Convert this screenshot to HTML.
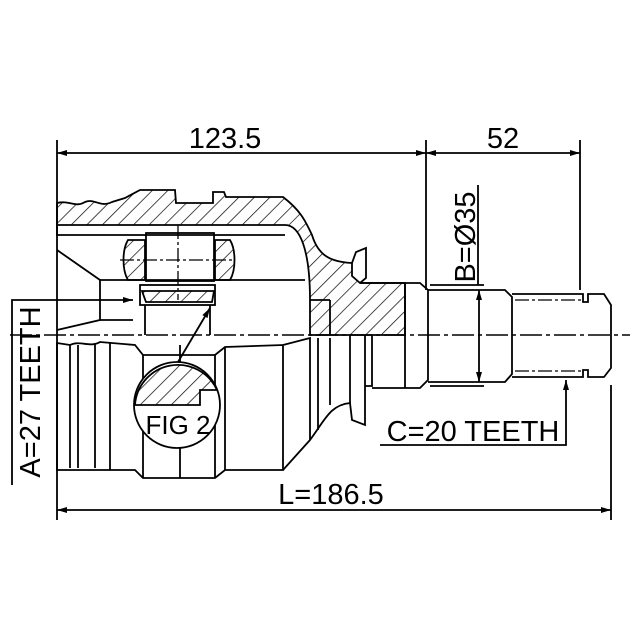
<!DOCTYPE html>
<html><head><meta charset="utf-8"><style>html,body{margin:0;padding:0;background:#fff}svg{display:block}</style></head>
<body>
<svg width="640" height="640" viewBox="0 0 640 640" xmlns="http://www.w3.org/2000/svg" font-family="Liberation Sans, sans-serif">
<defs>
<pattern id="h" patternUnits="userSpaceOnUse" width="11" height="11" patternTransform="rotate(45)">
<line x1="0" y1="0" x2="0" y2="11" stroke="#000" stroke-width="1.4"/>
</pattern>
<marker id="a" viewBox="0 0 10 10" refX="10" refY="5" markerWidth="10" markerHeight="10" orient="auto-start-reverse" markerUnits="userSpaceOnUse">
<path d="M0,2 L10,5 L0,8 Z" fill="#000"/></marker>
</defs>
<g fill="none" stroke="#000" stroke-width="1.8">
<line x1="57" y1="140" x2="57" y2="520"/>
<line x1="426" y1="140" x2="426" y2="290"/>
<line x1="580" y1="140" x2="580" y2="290"/>
<line x1="611" y1="385" x2="611" y2="520"/>
<line x1="57" y1="153" x2="426" y2="153" marker-start="url(#a)" marker-end="url(#a)"/>
<line x1="426" y1="153" x2="580" y2="153" marker-start="url(#a)" marker-end="url(#a)"/>
<line x1="57" y1="510" x2="611" y2="510" marker-start="url(#a)" marker-end="url(#a)"/>
<line x1="430" y1="285" x2="484" y2="285"/>
<line x1="430" y1="386" x2="484" y2="386"/>
<line x1="479" y1="290" x2="479" y2="382" marker-start="url(#a)" marker-end="url(#a)"/>
<line x1="478" y1="185" x2="478" y2="285"/>
<polyline points="12,485 12,300 133,300" marker-end="url(#a)"/>
<polyline points="380,445 566,445 566,380" marker-end="url(#a)"/>
<line x1="10" y1="335" x2="630" y2="335" stroke-dasharray="22,4,4,4" stroke-width="1.4"/>

<path d="M57,203 C70,200 75,208 85,202 C95,198 100,208 112,202 L125,198 L140,190 L175,190 L176,203 L213,203 L213,192 L224,192 L226,197 L283,197 C300,210 305,220 312,235 C318,255 330,262 352,263 L352,276 L360,283 L405,283 L405,335 L310,335 L310,300 C310,250 300,225 285,225 L57,225 Z" fill="url(#h)"/>
<path d="M352,263 L356,252 L366,248 L366,278 L360,283"/>
<polyline points="57,225 57,235 285,235 C300,240 310,260 310,300"/>
<polyline points="57,250 100,280 100,320 57,330"/>
<line x1="100" y1="280" x2="305" y2="280"/>
<line x1="100" y1="320" x2="133" y2="320"/>
<line x1="310" y1="300" x2="330" y2="300"/>
<line x1="330" y1="300" x2="330" y2="335"/>
<path d="M128,240 L145,240 L145,280 L128,280 C122,270 122,250 128,240 Z" fill="url(#h)"/>
<path d="M215,240 L230,240 C236,250 236,270 230,280 L215,280 Z" fill="url(#h)"/>
<rect x="146" y="233" width="68" height="48"/>
<line x1="120" y1="260" x2="235" y2="260" stroke-dasharray="14,3,3,3" stroke-width="1.3"/>
<line x1="178" y1="225" x2="178" y2="300" stroke-dasharray="14,3,3,3" stroke-width="1.3"/>
<rect x="140" y="285" width="75" height="20"/>
<path d="M142,291 L214,291 L212,302 L146,302 Z" fill="url(#h)"/>
<line x1="145" y1="305" x2="145" y2="335"/>
<line x1="210" y1="305" x2="210" y2="335"/>
<path d="M57,470 L57,343 L70,345 C80,340 90,348 100,342 L135,345 L143,355 L215,355 L225,347 L283,345 L283,470 L225,470 L215,478 L143,478 L135,470 Z"/>
<line x1="70" y1="345" x2="70" y2="468"/><line x1="78" y1="345" x2="78" y2="468"/>
<line x1="95" y1="343" x2="95" y2="468"/><line x1="110" y1="343" x2="110" y2="470"/>
<line x1="143" y1="355" x2="143" y2="478"/><line x1="180" y1="345" x2="180" y2="478"/>
<line x1="215" y1="355" x2="215" y2="478"/><line x1="225" y1="347" x2="225" y2="470"/>
<path d="M283,345 L310,338 L310,440 L283,470"/>
<path d="M310,440 C325,420 330,405 350,403 L352,420 L365,425 L365,335"/>
<line x1="350" y1="403" x2="350" y2="335"/>
<line x1="318" y1="338" x2="318" y2="430"/>
<line x1="330" y1="338" x2="330" y2="405"/>
<path d="M365,386 L372,386 L372,335"/>
<path d="M360,283 L420,283 L428,290 L428,380 L420,388 L372,388"/>
<line x1="405" y1="283" x2="405" y2="388"/>
<path d="M428,290 L505,290 L512,297 L512,374 L505,382 L428,382"/>
<path d="M512,294 L583,294 L583,302 L588,302 L588,294 L604,294 L611,305 L611,368 L604,377 L588,377 L588,370 L583,370 L583,377 L512,377"/>
<line x1="515" y1="300" x2="583" y2="300" stroke-dasharray="14,3,3,3" stroke-width="1.3"/>
<line x1="515" y1="371" x2="583" y2="371" stroke-dasharray="14,3,3,3" stroke-width="1.3"/>
<circle cx="177" cy="405" r="43" fill="#fff"/>
<path d="M135,405 A43,43 0 0 1 217,390 L200,390 L200,405 Z" fill="url(#h)"/>
<line x1="178" y1="362" x2="210" y2="308" marker-end="url(#a)"/>
</g>
<g font-size="29" fill="#000">
<text x="225" y="148" text-anchor="middle">123.5</text>
<text x="503" y="148" text-anchor="middle">52</text>
<text x="331" y="504" text-anchor="middle">L=186.5</text>
<text x="473" y="441" text-anchor="middle">C=20 TEETH</text>
<text x="178" y="434" text-anchor="middle" font-size="26">FIG 2</text>
<text transform="translate(475,237) rotate(-90)" text-anchor="middle">B=Ø35</text>
<text transform="translate(40,392) rotate(-90)" text-anchor="middle">A=27 TEETH</text>
</g>
</svg>
</body></html>
